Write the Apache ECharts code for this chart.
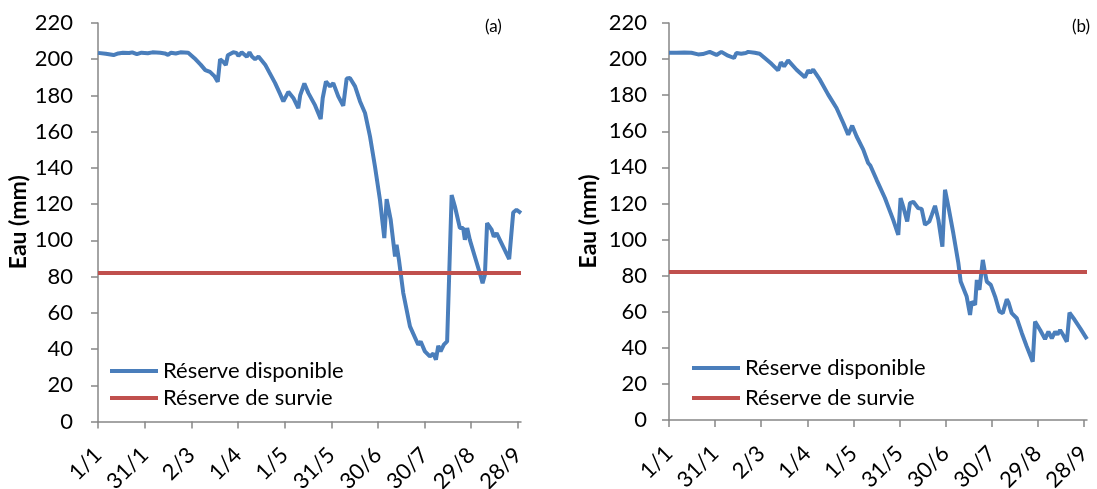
<!DOCTYPE html>
<html>
<head>
<meta charset="utf-8">
<script src="https://cdn.jsdelivr.net/npm/echarts@6/dist/echarts.min.js"></script>
<style>
  html, body { margin: 0; padding: 0; background: #ffffff; }
  #chart { width: 1097px; height: 489px; }
</style>
</head>
<body>
<div id="chart"></div>
<script>
// Day-of-year positions of the date ticks and their labels
const tickDays = [0, 30, 60, 90, 120, 150, 180, 210, 240, 270];
const tickLabels = ['1/1', '31/1', '2/3', '1/4', '1/5', '31/5', '30/6', '30/7', '29/8', '28/9'];
const lastDay = 272;

// Panel (a): available water reserve (mm) by day of year
const daysA = [0, 5, 10, 13, 16, 20, 22, 25, 28, 32, 35, 40, 43, 45, 47, 50, 53, 58,
  62, 66, 69, 72, 75, 77, 78.5, 80.7, 82.2, 83.5, 87, 89, 90.3, 92.4, 95.7, 97.4, 99,
  101, 103.2, 107.5, 110, 113.9, 117, 119.2, 122.4, 125.6, 128.8, 130, 132.7, 135.3,
  139.6, 143.2, 144.5, 146.6, 149.2, 151.3, 154.5, 157.7, 159.9, 162, 165.3, 168.5,
  171.7, 174.9, 178.1, 181.3, 184.1, 185.6, 188.2, 191, 192, 193.5, 196.3, 200.6,
  205.9, 207.5, 210.2, 213.4, 215.6, 217.3, 218.8, 220.3, 222.4, 224.5, 227.4, 229.5,
  232.7, 234.8, 235.9, 237.4, 239.1, 242.3, 245.5, 247.3, 248.8, 250.2, 253.1, 254.5,
  256.3, 258.4, 260.5, 264.4, 265.3, 267, 269.1, 272];
const reserveA = [203.5, 203, 202.3, 203.2, 203.6, 203.4, 203.8, 202.8, 203.6, 203.3,
  203.8, 203.6, 203.2, 202.4, 203.6, 203.2, 203.8, 203.6,
  200.6, 197, 194, 193, 190.5, 187.5, 200, 198.5, 196.8, 202.2, 203.8, 203.5, 201.8,
  203.8, 201.4, 203.8, 201.5, 200, 201.5, 197, 193, 186.8, 181, 176.7, 182, 178.6,
  173, 180, 186.6, 181.3, 174.5, 167, 178.6, 187.7, 185, 186.8, 179.5, 174.3, 189.4,
  189.6, 185, 176.7, 170.3, 157.4, 140.8, 122.4, 101.3, 122.8, 111.4, 91.1, 97.6,
  89.3, 70.9, 52.5, 42.4, 44.2, 38.7, 35.9, 37.5, 34.1, 41.8, 38.7, 42.4, 44.2, 125,
  118.7, 106.8, 106.8, 100.3, 106.8, 100.3, 91.1, 82, 76.4, 81, 109.5, 105.9, 102,
  104, 100.3, 96.6, 89.7, 90.5, 115.4, 116.9, 115];
const survieA = 82;

// Panel (b): available water reserve (mm) by day of year
const daysB = [0, 5, 10, 14.6, 18.9, 22, 26.5, 30.9, 34.1, 38.4, 42.3, 43.9, 47, 50,
  51.5, 55.8, 59, 62.3, 66.7, 71, 72.8, 74.9, 77.5, 83, 88.4, 90.6, 92, 93.8, 98.2,
  103.6, 109, 113.4, 116.6, 119.2, 122.1, 126.4, 129.6, 131, 135.1, 140.5, 145.9,
  149.2, 150.7, 152.4, 155, 156.8, 159, 162.2, 164.4, 166.6, 169.4, 171, 173.1, 175.3,
  177.9, 179.6, 181.8, 185, 188.3, 189.8, 193.7, 195.9, 197, 199.2, 200.3, 202, 204.2,
  205.7, 206.8, 209.4, 212.2, 215, 217.2, 219.8, 221, 223, 226.3, 229.6, 232.8, 236.7,
  238.2, 241.5, 244.7, 246.9, 249.1, 251.3, 252.8, 254.5, 256.6, 258.9, 260.6, 263.2,
  267.6, 272];
const reserveB = [203.5, 203.5, 203.6, 203.5, 202.6, 202.8, 204, 202.3, 204, 201.9,
  200.6, 203.4, 203, 203.4, 204, 203.5, 203, 200.6, 197.4, 193.7, 198.2, 196, 199.3,
  194.1, 189.9, 193.7, 192.5, 194.1, 188.6, 180.3, 172.9, 164.6, 158.1, 163.1, 157.1,
  149.8, 142.4, 141, 133.1, 123, 110.9, 102.6, 123, 118.3, 110, 120.2, 120.9, 117.4,
  117, 108.2, 110, 113.7, 118.7, 110.9, 96.1, 127.6, 118.3, 103.5, 86.9, 76.7, 68.4,
  58.2, 65.6, 63.8, 77.6, 72.1, 88.7, 81.4, 76.7, 74.9, 68.4, 60.1, 59.2, 66.9, 65,
  59.2, 56.4, 48.1, 40.7, 32.3, 54.5, 49.9, 44.8, 49, 45.3, 49, 47.3, 49.9, 47, 43.4,
  59.5, 56.4, 50.8, 44.8];
const survieB = 82;

const seriesNames = ['Réserve disponible', 'Réserve de survie'];

const FONT = 'Lato, "Open Sans", sans-serif';
const AXIS_GREY = '#868686';
const BLUE = '#4A7EBB';
const RED = '#C0504D';
const LINE_W = 4;

const toPairs = (xs, ys) => xs.map((d, i) => [d, ys[i]]);

function xAxisFor(gridIndex) {
  return {
    gridIndex: gridIndex,
    type: 'value',
    min: 0,
    max: lastDay,
    axisLine: { show: true, onZero: false, lineStyle: { color: AXIS_GREY, width: 1.5 } },
    axisTick: { show: true, length: 7, customValues: tickDays, lineStyle: { color: AXIS_GREY, width: 1.5 } },
    axisLabel: {
      customValues: tickDays,
      rotate: 45,
      margin: 30,
      color: '#000',
      fontFamily: FONT,
      fontSize: 22,
      formatter: v => tickLabels[tickDays.indexOf(v)] || ''
    },
    splitLine: { show: false }
  };
}

function yAxisFor(gridIndex, labelMargin, nameGap) {
  return {
    gridIndex: gridIndex,
    type: 'value',
    min: 0,
    max: 220,
    interval: 20,
    name: 'Eau (mm)',
    nameLocation: 'middle',
    nameGap: nameGap,
    nameTextStyle: { color: '#000', fontFamily: FONT, fontSize: 23, fontWeight: 'bold' },
    axisLine: { show: true, lineStyle: { color: AXIS_GREY, width: 1.5 } },
    axisTick: { show: true, length: 7, lineStyle: { color: AXIS_GREY, width: 1.5 } },
    axisLabel: { margin: labelMargin, color: '#000', fontFamily: FONT, fontSize: 22 },
    splitLine: { show: false }
  };
}

function panelSeries(idx, days, reserve, survie) {
  return [
    {
      name: seriesNames[0],
      type: 'line',
      xAxisIndex: idx,
      yAxisIndex: idx,
      data: toPairs(days, reserve),
      symbol: 'none',
      lineStyle: { color: BLUE, width: LINE_W },
      itemStyle: { color: BLUE }
    },
    {
      name: seriesNames[1],
      type: 'line',
      xAxisIndex: idx,
      yAxisIndex: idx,
      data: [[0, survie], [lastDay, survie]],
      symbol: 'none',
      lineStyle: { color: RED, width: LINE_W },
      itemStyle: { color: RED }
    }
  ];
}

function legendFor(left, top, lineHeight) {
  return {
    orient: 'vertical',
    left: left,
    top: top,
    padding: 0,
    itemGap: 0,
    icon: 'rect',
    itemWidth: 48,
    itemHeight: LINE_W,
    selectedMode: false,
    data: seriesNames,
    textStyle: { color: '#000', fontFamily: FONT, fontSize: 22, lineHeight: lineHeight }
  };
}

const chart = echarts.init(document.getElementById('chart'), null, { renderer: 'canvas' });
chart.setOption({
  animation: false,
  backgroundColor: '#ffffff',
  grid: [
    { left: 98, top: 23, width: 423, height: 398.5, outerBoundsMode: 'none', containLabel: false },
    { left: 669, top: 23, width: 418, height: 397, outerBoundsMode: 'none', containLabel: false }
  ],
  xAxis: [xAxisFor(0), xAxisFor(1)],
  yAxis: [yAxisFor(0, 25, 68), yAxisFor(1, 22, 69)],
  legend: [legendFor(110, 357.5, 27), legendFor(692, 353, 30)],
  graphic: [
    { type: 'text', left: 485, top: 18, style: { text: '(a)', fill: '#000', font: '17px ' + FONT } },
    { type: 'text', left: 1072, top: 18, style: { text: '(b)', fill: '#000', font: '17px ' + FONT } }
  ],
  series: [
    ...panelSeries(0, daysA, reserveA, survieA),
    ...panelSeries(1, daysB, reserveB, survieB)
  ]
});
</script>
</body>
</html>
